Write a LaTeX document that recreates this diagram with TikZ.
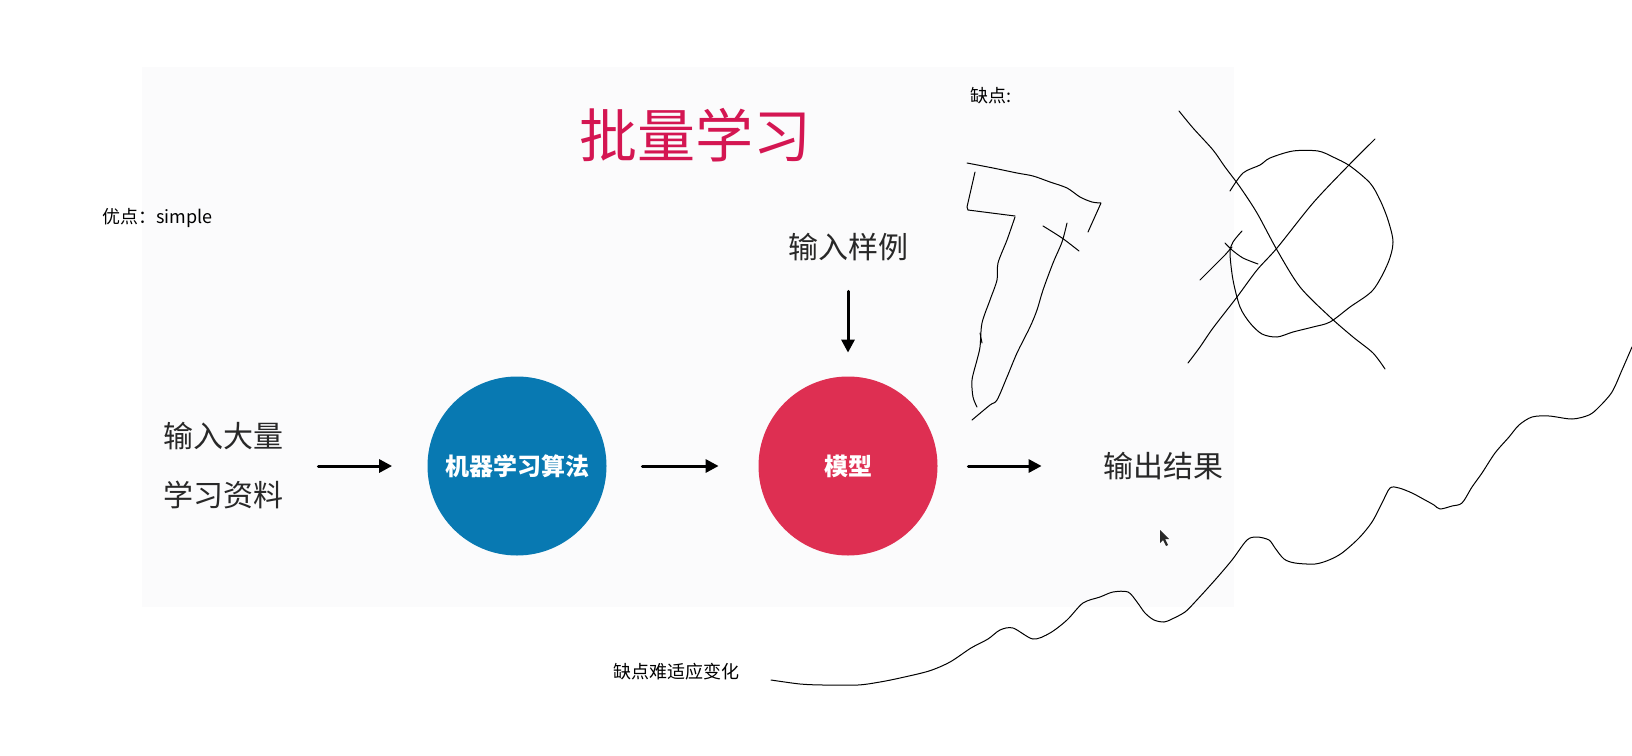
\documentclass[tikz,border=0pt]{standalone}
\usepackage{fontspec}
\setmainfont{Noto Sans CJK SC}
\usepackage{tikz}
\usetikzlibrary{arrows.meta}
\definecolor{titlered}{RGB}{212,22,82}
\definecolor{algoblue}{RGB}{8,121,178}
\definecolor{modelred}{RGB}{222,47,82}
\definecolor{inkgray}{RGB}{40,40,40}
\definecolor{slidebg}{RGB}{251,251,252}
\tikzset{
  every picture/.style={line join=round, line cap=round, >=Stealth},
  flow/.style={line width=1.5pt, -{Triangle[length=6.5pt,width=6.5pt]}},
  ball/.style={circle, minimum size=89.5pt, inner sep=0pt, text=white, font=\fontsize{12}{14}\selectfont\bfseries},
  label/.style={inner sep=0pt, text=inkgray, font=\fontsize{15}{18}\selectfont},
  note/.style={inner sep=0pt, text=black, font=\fontsize{9}{11}\selectfont},
  pen/.style={line width=0.5pt},
}

\begin{document}
\begin{tikzpicture}[x=0.5pt,y=-0.5pt]
\useasboundingbox (0,0) rectangle (1632,755);
\fill[slidebg] (142,67) rectangle (1234,607);

\node[text=titlered, font=\fontsize{29}{34}\selectfont] (title) at (695,135) {批量学习};
\node[note, anchor=west] (pro) at (102,218) {优点：simple};
\node[note, anchor=west] (con) at (970,96) {缺点:};
\node[note] (weak) at (676,672) {缺点难适应变化};

\node[label, align=left, font=\fontsize{15}{29.5}\selectfont] (data) at (223,466) {输入大量\\学习资料};
\node[ball, fill=algoblue] (algo) at (517,466) {机器学习算法};
\node[ball, fill=modelred] (model) at (848,466) {模型};
\node[label] (sample) at (848,247) {输入样例};
\node[label] (out) at (1163,466) {输出结果};

\draw[flow, shorten <=17.5pt, shorten >=17.5pt] (data) -- (algo);
\draw[flow, shorten <=17.75pt, shorten >=19.75pt] (algo) -- (model);
\draw[flow, shorten <=15.25pt, shorten >=30.5pt] (model) -- (out);
\draw[flow, shorten <=15pt, shorten >=11.75pt] (sample) -- (model);

% scribbles
\draw[pen] plot[smooth, tension=0.5] coordinates {(967,163) (993,168) (1017,173) (1033,176) (1050,182) (1067,188) (1080,197) (1092,202) (1101,203)} -- (1088,232);
\draw[pen] (975,172) -- (967,207) -- (968,210) -- (1015,216);
\draw[pen] plot[smooth, tension=0.5] coordinates {(1015,217) (1007,240) (998,263) (997,280) (990,300) (982,323) (980,347) (977,360) (972,380) (973,397) (977,407)};
\draw[pen] (980,333) -- (982,343);
\draw[pen] plot[smooth, tension=0.5] coordinates {(1067,223) (1062,242) (1053,263) (1043,290) (1037,310) (1030,327) (1017,353) (1007,377) (997,400) (990,405) (972,420)};
\draw[pen] plot[smooth, tension=0.5] coordinates {(1043,226) (1062,238) (1079,251)};

\draw[pen] plot[smooth, tension=0.5] coordinates {(1179,111) (1193,128) (1213,150) (1225,167) (1240,187) (1257,213) (1277,250) (1300,287) (1330,317) (1353,337) (1373,353) (1385,369)};
\draw[pen] plot[smooth, tension=0.5] coordinates {(1375,139) (1347,167) (1313,203) (1277,248) (1257,270) (1237,297) (1213,328) (1200,347) (1188,363)};
\draw[pen] plot[smooth, tension=0.5] coordinates {(1230,191) (1243,173) (1260,165) (1270,158) (1293,151) (1318,151) (1333,157) (1350,166) (1370,183) (1380,200) (1388,220) (1393,242) (1388,263) (1373,290) (1350,307) (1330,322) (1313,327) (1293,332) (1277,337) (1262,334) (1250,323) (1240,307) (1233,280) (1230,253) (1233,242) (1242,231)};
\draw[pen] (1200,280) -- (1225,255) -- (1232,247);
\draw[pen] plot[smooth, tension=0.5] coordinates {(1225,243) (1232,250) (1243,258) (1258,264)};

\draw[pen] plot[smooth, tension=0.5] coordinates {(771,680) (800,684) (823,685) (858,685) (880,682) (900,678) (929,671) (950,662) (971,648) (988,639) (1000,630) (1013,628) (1033,639) (1050,633) (1067,620) (1083,603) (1100,597) (1113,592) (1128,592) (1137,602) (1145,613) (1154,620) (1164,622) (1172,619) (1185,612) (1195,602) (1215,580) (1232,560) (1247,540) (1257,537) (1269,540) (1275,548) (1284,559) (1295,563) (1315,564) (1329,560) (1342,553) (1359,538) (1372,522) (1382,503) (1390,488) (1399,488) (1412,493) (1425,500) (1434,505) (1440,509) (1452,506) (1462,503) (1472,487) (1482,473) (1495,453) (1509,437) (1519,425) (1532,417) (1549,416) (1572,419) (1589,415) (1599,407) (1612,392) (1622,370) (1632,347)};

\fill[inkgray] (1160,530) -- ++(0,13) -- ++(3,-3) -- ++(3,6) -- ++(2,-1) -- ++(-3,-6) -- ++(4,0) -- cycle;
\end{tikzpicture}
\end{document}
